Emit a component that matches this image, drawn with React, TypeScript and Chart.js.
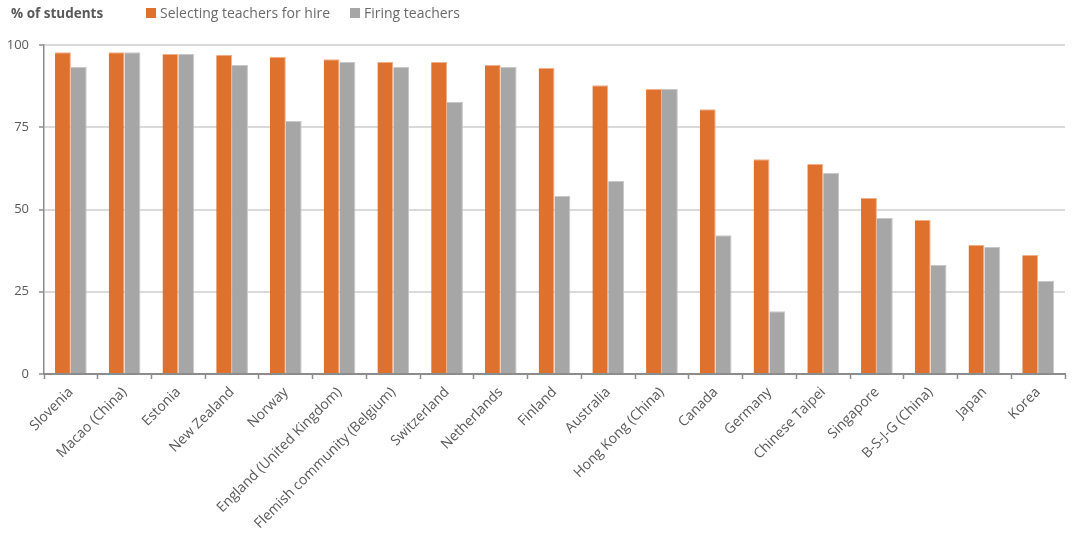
import React, { useEffect, useRef } from "react";
import { Chart, registerables } from "chart.js";

Chart.register(...registerables);

const categories = [
  "Slovenia",
  "Macao (China)",
  "Estonia",
  "New Zealand",
  "Norway",
  "England (United Kingdom)",
  "Flemish community (Belgium)",
  "Switzerland",
  "Netherlands",
  "Finland",
  "Australia",
  "Hong Kong (China)",
  "Canada",
  "Germany",
  "Chinese Taipei",
  "Singapore",
  "B-S-J-G (China)",
  "Japan",
  "Korea",
];

const selectingForHire = [97.8, 97.8, 97.3, 97.0, 96.4, 95.7, 94.8, 94.8, 93.9, 93.0, 87.8, 86.6, 80.5, 65.3, 63.8, 53.5, 46.8, 39.2, 36.2];
const firingTeachers = [93.3, 97.8, 97.3, 93.9, 76.9, 94.8, 93.3, 82.7, 93.3, 54.1, 58.7, 86.6, 42.2, 19.1, 61.2, 47.4, 33.1, 38.6, 28.3];

const yTicks = [0, 25, 50, 75, 100];

const ORANGE = "#DE712E";
const GRAY = "#A6A6A6";
const TEXT = "#595959";
const FONT = "'Open Sans', 'Noto Sans', sans-serif";

export default function App() {
  const ref = useRef<HTMLCanvasElement | null>(null);

  useEffect(() => {
    if (!ref.current) return;
    const chart = new Chart(ref.current, {
      type: "bar",
      data: {
        labels: categories,
        datasets: [
          {
            label: "Selecting teachers for hire",
            data: selectingForHire,
            backgroundColor: ORANGE,
            borderColor: "#F0B08A",
            borderWidth: { top: 1, left: 0, right: 1, bottom: 0 },
            categoryPercentage: 0.59,
            barPercentage: 1.0,
          },
          {
            label: "Firing teachers",
            data: firingTeachers,
            backgroundColor: GRAY,
            borderColor: "#C8C8C8",
            borderWidth: { top: 1, left: 0, right: 1, bottom: 0 },
            categoryPercentage: 0.59,
            barPercentage: 1.0,
          },
        ],
      },
      options: {
        animation: false,
        responsive: false,
        maintainAspectRatio: false,
        layout: { padding: { top: 45, right: 7, left: 0, bottom: 0 } },
        plugins: {
          legend: { display: false },
          title: { display: false },
          tooltip: { enabled: false },
        },
        scales: {
          x: {
            offset: true,
            grid: {
              offset: true,
              drawOnChartArea: false,
              drawTicks: true,
              tickLength: 5,
              tickColor: "#8C8C8C",
              tickWidth: 1.5,
            },
            border: { color: "#8C8C8C", width: 2 },
            ticks: {
              autoSkip: false,
              maxRotation: 45,
              minRotation: 45,
              color: TEXT,
              font: { family: FONT, size: 14 },
              padding: 5,
            },
            afterFit: (scale: any) => {
              scale.height = 160;
            },
          },
          y: {
            min: 0,
            max: 100,
            afterBuildTicks: (scale: any) => {
              scale.ticks = yTicks.map((v) => ({ value: v }));
            },
            grid: {
              color: "#DADADA",
              lineWidth: 2,
              tickColor: "#8C8C8C",
              tickLength: 5,
              tickWidth: 1.5,
            },
            border: { color: "#8C8C8C", width: 1.5 },
            ticks: {
              color: TEXT,
              font: { family: FONT, size: 13 },
              padding: 10,
            },
            afterFit: (scale: any) => {
              scale.width = 44;
            },
          },
        },
      },
    });
    return () => chart.destroy();
  }, []);

  return (
    <div style={{ position: "fixed", left: 0, top: 0, width: 1072, height: 534, background: "#fff", fontFamily: FONT }}>
      <canvas ref={ref} width={1072} height={534} style={{ position: "absolute", left: 0, top: 0, width: 1072, height: 534 }} />
      <div style={{ position: "absolute", left: 11, top: 4, fontSize: 13.5, fontWeight: 700, color: TEXT, whiteSpace: "nowrap" }}>
        % of students
      </div>
      <div style={{ position: "absolute", left: 146, top: 3, display: "flex", alignItems: "center", fontSize: 14, color: "#6A6A6A", whiteSpace: "nowrap" }}>
        <span style={{ display: "inline-block", width: 10, height: 10, background: ORANGE, marginRight: 4 }} />
        <span>Selecting teachers for hire</span>
        <span style={{ display: "inline-block", width: 10, height: 10, background: GRAY, marginLeft: 20, marginRight: 4 }} />
        <span>Firing teachers</span>
      </div>
    </div>
  );
}
